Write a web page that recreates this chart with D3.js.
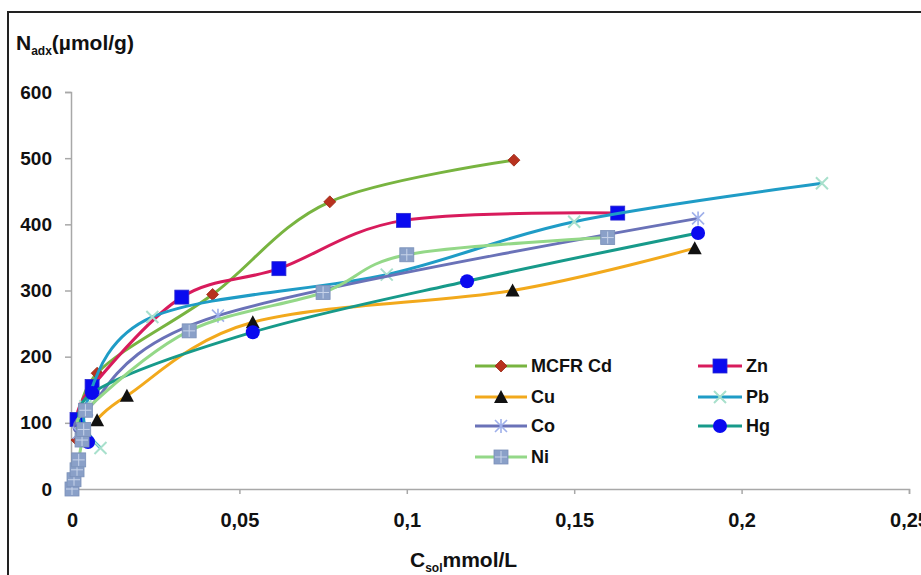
<!DOCTYPE html>
<html><head><meta charset="utf-8">
<script src="https://cdn.jsdelivr.net/npm/d3@7"></script>
<style>body{margin:0;background:#fff}svg{display:block}</style>
</head><body>
<svg id="c" width="921" height="575"></svg>
<script>
// ---- data ----
const seriesNames = ["MCFR Cd","Zn","Cu","Pb","Co","Hg","Ni"];
const cdData = [[0.0015,74],[0.0075,175],[0.042,294],[0.077,434],[0.132,497]];
const znData = [[0.0015,105],[0.006,155],[0.0328,290],[0.0618,333],[0.099,406],[0.163,417]];
const cuData = [[0.0075,104],[0.0164,141],[0.054,252],[0.1316,300],[0.186,364]];
const pbData = [[0.0085,62],[0.004,125],[0.024,260],[0.094,324],[0.15,404],[0.224,462]];
const coData = [[0.002,85],[0.0045,120],[0.0436,262],[0.187,409]];
const hgData = [[0.0048,71],[0.006,145],[0.054,237],[0.118,314],[0.187,387]];
const niData = [[0,0],[0.0006,14],[0.0015,29],[0.002,44],[0.003,74],[0.0035,90],[0.004,119],[0.035,239],[0.075,297],[0.100,354],[0.16,380]];
const xTicks = [0,0.05,0.1,0.15,0.2,0.25];
const xTickLabels = ["0","0,05","0,1","0,15","0,2","0,25"];
const yTicks = [0,100,200,300,400,500,600];

const allData = [cdData,znData,cuData,pbData,coData,hgData,niData];
const lineColors = ["#78b440","#d81b5c","#f2a91c","#1f9cc6","#6a72b8","#179a8a","#94d888"];
const markerTypes = ["diamond","square","triangle","x","star","circle","nisq"];
const FONT = "Liberation Sans, Arial, sans-serif";

const svg = d3.select("#c");
const x = d3.scaleLinear().domain([0,0.25]).range([72,909]);
const y = d3.scaleLinear().domain([0,600]).range([489,92]);

// frame
svg.append("rect").attr("x",8).attr("y",12).attr("width",940).attr("height",600)
  .attr("fill","none").attr("stroke","#222").attr("stroke-width",2);

// axes
const xAxis = svg.append("g").attr("transform","translate(0,489)")
  .call(d3.axisBottom(x).tickValues(xTicks).tickFormat((d,i)=>xTickLabels[i]).tickSize(5).tickPadding(19));
const yAxis = svg.append("g").attr("transform","translate(71,0)")
  .call(d3.axisLeft(y).tickValues(yTicks).tickSize(6).tickPadding(13));
[xAxis,yAxis].forEach(g=>{
  g.select(".domain").attr("stroke","#a8a8a8").attr("stroke-width",1.5);
  g.selectAll(".tick line").attr("stroke","#a8a8a8").attr("stroke-width",1.5);
  g.selectAll("text").attr("fill","#111").attr("font-family",FONT).attr("font-weight","bold");
});
xAxis.selectAll("text").attr("font-size",20);
yAxis.selectAll("text").attr("font-size",19);

// titles
const yt = svg.append("text").attr("x",16).attr("y",50).attr("font-family",FONT)
  .attr("font-weight","bold").attr("font-size",21).attr("fill","#111");
yt.append("tspan").text("N");
yt.append("tspan").attr("font-size",12).attr("dy",5).text("adx");
yt.append("tspan").attr("dy",-5).text("(µmol/g)");

const xt = svg.append("text").attr("x",410).attr("y",567).attr("font-family",FONT)
  .attr("font-weight","bold").attr("font-size",21).attr("fill","#111");
xt.append("tspan").text("C");
xt.append("tspan").attr("font-size",12).attr("dy",5).text("sol");
xt.append("tspan").attr("dy",-5).text("mmol/L");

// markers
function drawMarker(g, type, cx, cy){
  if(type==="diamond"){
    g.append("path").attr("d",`M${cx},${cy-6}L${cx+6},${cy}L${cx},${cy+6}L${cx-6},${cy}Z`)
     .attr("fill","#b8321f").attr("stroke","#9a2a18").attr("stroke-width",0.8);
  } else if(type==="square"){
    g.append("rect").attr("x",cx-7).attr("y",cy-7).attr("width",14).attr("height",14)
     .attr("fill","#0a0aef").attr("stroke","#2a2ad0").attr("stroke-width",0.8);
  } else if(type==="triangle"){
    g.append("path").attr("d",`M${cx},${cy-7}L${cx+7},${cy+6}L${cx-7},${cy+6}Z`).attr("fill","#111");
  } else if(type==="x"){
    g.append("path").attr("d",`M${cx-6},${cy-6}L${cx+6},${cy+6}M${cx+6},${cy-6}L${cx-6},${cy+6}`)
     .attr("stroke","#a8e0cc").attr("stroke-width",2);
  } else if(type==="star"){
    g.append("path").attr("d",`M${cx-6},${cy-6}L${cx+6},${cy+6}M${cx+6},${cy-6}L${cx-6},${cy+6}M${cx},${cy-7}L${cx},${cy+7}`)
     .attr("stroke","#9fb0ea").attr("stroke-width",1.6);
  } else if(type==="circle"){
    g.append("circle").attr("cx",cx).attr("cy",cy).attr("r",7).attr("fill","#0a0aef");
  } else if(type==="nisq"){
    g.append("rect").attr("x",cx-7).attr("y",cy-7).attr("width",14).attr("height",14)
     .attr("fill","#8aa0c8").attr("stroke","#7a90b8").attr("stroke-width",0.8);
    g.append("path").attr("d",`M${cx-6},${cy}L${cx+6},${cy}M${cx},${cy-6}L${cx},${cy+6}`)
     .attr("stroke","#c8d4ea").attr("stroke-width",1);
  }
}

const line = d3.line().x(d=>x(d[0])).y(d=>y(d[1])).curve(d3.curveCardinal.tension(0));
allData.forEach((data,i)=>{
  const g = svg.append("g");
  g.append("path").datum(data).attr("d",line).attr("fill","none")
    .attr("stroke",lineColors[i]).attr("stroke-width",3).attr("stroke-linejoin","round");
  data.forEach(d=>drawMarker(g, markerTypes[i], x(d[0]), y(d[1])));
});

// legend
const legPos = [[475,366],[698,366],[475,397],[698,397],[475,426],[698,426],[475,457]];
seriesNames.forEach((name,i)=>{
  const [lx,ly] = legPos[i];
  const w = i%2===0 ? 52 : 44;
  const g = svg.append("g");
  g.append("line").attr("x1",lx).attr("x2",lx+w).attr("y1",ly).attr("y2",ly)
    .attr("stroke",lineColors[i]).attr("stroke-width",3);
  drawMarker(g, markerTypes[i], lx+w/2, ly);
  g.append("text").attr("x",lx+w+4).attr("y",ly+6).text(name)
    .attr("font-family",FONT).attr("font-weight","bold")
    .attr("font-size",18).attr("fill","#111");
});
</script>
</body></html>
